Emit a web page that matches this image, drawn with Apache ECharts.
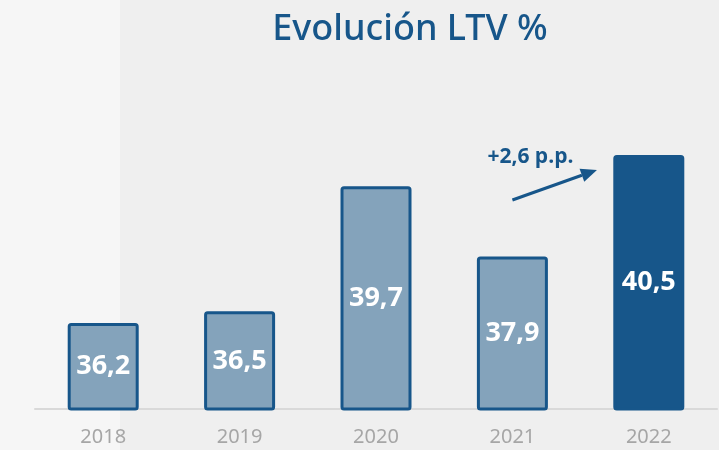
<!DOCTYPE html>
<html>
<head>
<meta charset="utf-8">
<script src="https://cdn.jsdelivr.net/npm/echarts@6/dist/echarts.min.js"></script>
<style>
  html, body { margin: 0; padding: 0; background: #efefef; }
  #chart { width: 719px; height: 450px; }
</style>
</head>
<body>
<div id="chart"></div>
<script>
var years = ['2018', '2019', '2020', '2021', '2022'];
var ltv = [36.2, 36.5, 39.7, 37.9, 40.5];
var labels = ['36,2', '36,5', '39,7', '37,9', '40,5'];
var deltaText = '+2,6 p.p.';

var blue = '#17568a';
var lightFill = '#84a3bb';

var chart = echarts.init(document.getElementById('chart'));

var barData = ltv.map(function (v, i) {
  var last = i === ltv.length - 1;
  return {
    value: v,
    itemStyle: { color: last ? blue : lightFill }
  };
});

var option = {
  backgroundColor: '#efefef',
  animation: false,
  title: {
    text: 'Evolución LTV %',
    left: 405,
    textAlign: 'center',
    top: 7,
    textStyle: {
      color: blue,
      fontFamily: 'Noto Sans',
      fontWeight: 500,
      fontSize: 36
    }
  },
  grid: { left: 35, right: 2, top: 135.5, bottom: 41 },
  xAxis: {
    type: 'category',
    data: years,
    axisTick: { show: false },
    axisLine: { lineStyle: { color: '#d9d9d9', width: 2 } },
    axisLabel: {
      color: '#a6a6a6',
      fontFamily: 'Noto Sans',
      fontSize: 20,
      margin: 18
    }
  },
  yAxis: {
    type: 'value',
    min: 34,
    max: 41,
    show: false,
    splitLine: { show: false }
  },
  series: [{
    type: 'bar',
    data: barData,
    barWidth: 71,
    itemStyle: { borderColor: blue, borderWidth: 3, borderRadius: 2 },
    label: {
      show: true,
      position: 'inside',
      formatter: function (p) { return labels[p.dataIndex]; },
      color: '#ffffff',
      fontFamily: 'Open Sans',
      fontWeight: 'bold',
      fontSize: 27
    }
  }]
};

chart.setOption(option);

// arrow annotation between 2021 and 2022, placed through the chart scales
var p0 = chart.convertToPixel({ seriesIndex: 0 }, [3, 39.35]);
var p3 = chart.convertToPixel({ seriesIndex: 0 }, [4, 40.12]);
var x1 = p0[0] + (p3[0] - p0[0]) * 0.62;
var y1 = p3[1];
var ang = Math.atan2(y1 - p0[1], x1 - p0[0]);
var headLen = 16, headW = 7;
var bx = x1 - headLen * Math.cos(ang), by = y1 - headLen * Math.sin(ang);
var nx = -Math.sin(ang), ny = Math.cos(ang);

chart.setOption({
  graphic: [
    {
      type: 'rect', z: -10, silent: true,
      shape: { x: 0, y: 0, width: 120, height: 450 },
      style: { fill: '#f6f6f6' }
    },
    {
      type: 'line',
      shape: { x1: p0[0], y1: p0[1], x2: bx, y2: by },
      style: { stroke: blue, lineWidth: 3 }
    },
    {
      type: 'polygon',
      shape: { points: [[x1, y1], [bx + nx * headW, by + ny * headW], [bx - nx * headW, by - ny * headW]] },
      style: { fill: blue }
    },
    {
      type: 'text',
      x: p0[0] - 25, y: y1 - 13,
      style: {
        text: deltaText,
        fill: blue,
        fontFamily: 'Open Sans',
        fontWeight: 'bold',
        fontSize: 21,
        textVerticalAlign: 'middle'
      }
    }
  ]
});
</script>
</body>
</html>
